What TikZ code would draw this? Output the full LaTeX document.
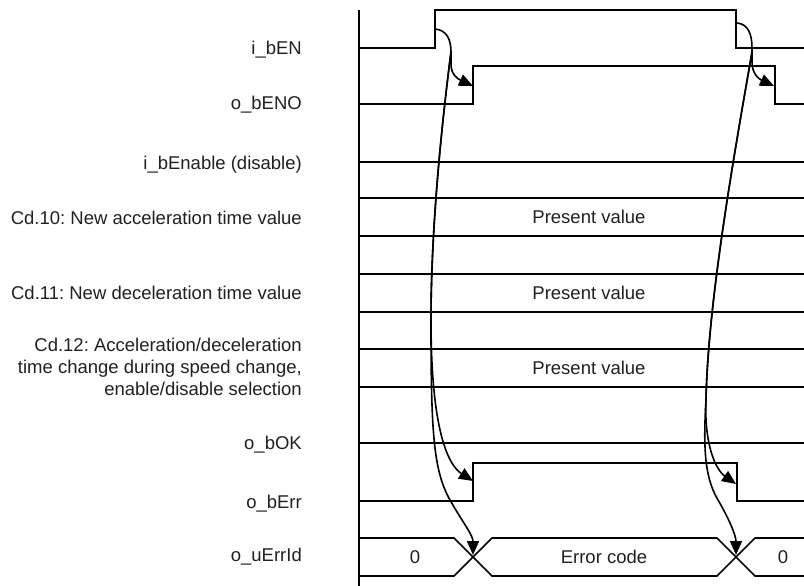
\documentclass[tikz,border=0pt]{standalone}
\usepackage{fontspec}
\setmainfont{Liberation Sans}
\usetikzlibrary{arrows.meta}
\definecolor{txt}{HTML}{231F20}
\frenchspacing
\begin{document}
\begin{tikzpicture}[x=1pt,y=-1pt,
  lbl/.style={anchor=base east, align=right, text=txt, inner sep=0pt, font=\fontsize{18.5}{22}\selectfont\frenchspacing},
  val/.style={anchor=base, text=txt, inner sep=0pt, font=\fontsize{18.5}{22}\selectfont},
  sig/.style={line width=1.6pt, line join=miter, line cap=butt},
  cause/.style={line width=1.6pt, -{Triangle[length=14pt,width=12pt]}}]
\useasboundingbox (0,0) rectangle (804,586);

% labels
\node[lbl] (lEN)   at (302,54.6) {i\_bEN};
\node[lbl] (lENO)  at (302,109.6) {o\_bENO};
\node[lbl] (lEna)  at (302,169.6) {i\_bEnable (disable)};
\node[lbl] (lCd10) at (302,224.6) {Cd.10: New acceleration time value};
\node[lbl] (lCd11) at (302,299.6) {Cd.11: New deceleration time value};
\node[lbl, anchor=east] (lCd12) at (302,367) {Cd.12: Acceleration/deceleration\\time change during speed change,\\enable/disable selection};
\node[lbl] (lOK)   at (302,449.6) {o\_bOK};
\node[lbl] (lErr)  at (302,508.6) {o\_bErr};
\node[lbl] (lId)   at (302,561.6) {o\_uErrId};

% time axis
\draw[sig] (359,10) -- (359,586);

% i_bEN
\draw[sig] (359,48) -- (435,48) -- (435,10) -- (736,10) -- (736,48) -- (804,48);
% o_bENO
\draw[sig] (359,104) -- (473,104) -- (473,66) -- (775,66) -- (775,104) -- (804,104);
% i_bEnable
\draw[sig] (359,162) -- (804,162);
% Cd.10 / Cd.11 / Cd.12
\draw[sig] (359,198) -- (804,198) (359,236) -- (804,236);
\draw[sig] (359,274) -- (804,274) (359,312) -- (804,312);
\draw[sig] (359,349) -- (804,349) (359,387) -- (804,387);
\node[val] (v10) at (589,223.6) {Present value};
\node[val] (v11) at (589,299.6) {Present value};
\node[val] (v12) at (589,374.6) {Present value};
% o_bOK
\draw[sig] (359,443) -- (804,443);
% o_bErr
\draw[sig] (359,501) -- (473,501) -- (473,463) -- (737,463) -- (737,501) -- (804,501);
% o_uErrId
\draw[sig] (359,538) -- (454,538) -- (492,576) -- (717,576) -- (755,538) -- (804,538);
\draw[sig] (359,576) -- (454,576) -- (492,538) -- (717,538) -- (755,576) -- (804,576);
\node[val] (id0a) at (415,563.6) {0};
\node[val] (idE)  at (604,563.6) {Error code};
\node[val] (id0b) at (783,563.6) {0};

% connector anchors
\coordinate (ENrise)  at (435,29);
\coordinate (ENOrise) at (473,86);
\coordinate (ErrRise) at (473,481);
\coordinate (IdXa)    at (473,555);
\coordinate (L0)      at (451,52);
\coordinate (Lsplit)  at (431,320);
\coordinate (ENfall)  at (737,23);
\coordinate (ENOfall) at (774,86);
\coordinate (ErrFall) at (736,484);
\coordinate (IdXb)    at (736,555);
\coordinate (R0)      at (752,52);
\coordinate (Rsplit)  at (706,400);

% left causes
\draw[cause] (ENrise) .. controls (447,30) and (451,40) .. (451,52) -- (451,64) .. controls (451,75) and (458,79) .. (ENOrise);
\draw[cause] (L0) .. controls (441,130) and (431,230) .. (Lsplit) .. controls (431,430) and (448,465) .. (ErrRise);
\draw[cause] (L0) .. controls (441,130) and (431,230) .. (Lsplit) .. controls (431,430) and (433,470) .. (450,500) .. controls (463,523) and (473,535) .. (IdXa);

% right causes
\draw[cause] (ENfall) .. controls (748,24) and (752,34) .. (752,48) -- (752,62) .. controls (752,74) and (759,79) .. (ENOfall);
\draw[cause] (R0) .. controls (735,150) and (708,300) .. (Rsplit) .. controls (704,445) and (716,470) .. (ErrFall);
\draw[cause] (R0) .. controls (735,150) and (708,300) .. (Rsplit) .. controls (703,450) and (705,478) .. (718,500) .. controls (728,517) and (736,535) .. (IdXb);
\end{tikzpicture}
\end{document}
